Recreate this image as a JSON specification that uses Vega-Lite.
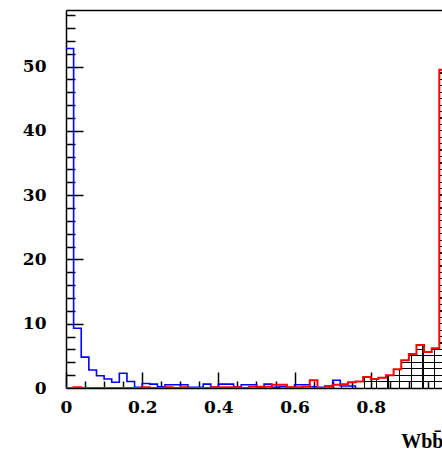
{
  "$schema": "https://vega.github.io/schema/vega-lite/v6.json",
  "width": 376,
  "height": 378,
  "autosize": {"type": "none"},
  "padding": {"left": 66, "top": 10, "right": 0, "bottom": 61},
  "background": "white",
  "config": {
    "view": {"stroke": null},
    "axis": {"grid": false, "domainColor": "black", "tickColor": "black", "labelColor": "black", "titleColor": "black", "labelFlush": false, "labelOverlap": false, "labelBound": false}
  },
  "data": {"values": [
    {"x": 0, "blue": 52.8, "red": 0},
    {"x": 0.02, "blue": 9.3, "red": 0.1},
    {"x": 0.04, "blue": 4.8, "red": 0},
    {"x": 0.06, "blue": 2.8, "red": 0},
    {"x": 0.08, "blue": 1.9, "red": 0},
    {"x": 0.1, "blue": 1.4, "red": 0},
    {"x": 0.12, "blue": 0.9, "red": 0},
    {"x": 0.14, "blue": 2.3, "red": 0},
    {"x": 0.16, "blue": 1.0, "red": 0},
    {"x": 0.18, "blue": 0.1, "red": 0},
    {"x": 0.2, "blue": 0.7, "red": 0.1},
    {"x": 0.22, "blue": 0.6, "red": 0},
    {"x": 0.24, "blue": 0.2, "red": 0},
    {"x": 0.26, "blue": 0.5, "red": 0.1},
    {"x": 0.28, "blue": 0.5, "red": 0},
    {"x": 0.3, "blue": 0.5, "red": 0.1},
    {"x": 0.32, "blue": 0.1, "red": 0},
    {"x": 0.34, "blue": 0.1, "red": 0},
    {"x": 0.36, "blue": 0.6, "red": 0},
    {"x": 0.38, "blue": 0.1, "red": 0.1},
    {"x": 0.4, "blue": 0.6, "red": 0.1},
    {"x": 0.42, "blue": 0.6, "red": 0.1},
    {"x": 0.44, "blue": 0.2, "red": 0.1},
    {"x": 0.46, "blue": 0.5, "red": 0},
    {"x": 0.48, "blue": 0.5, "red": 0.2},
    {"x": 0.5, "blue": 0.1, "red": 0.2},
    {"x": 0.52, "blue": 0.6, "red": 0.2},
    {"x": 0.54, "blue": 0.1, "red": 0.5},
    {"x": 0.56, "blue": 0.2, "red": 0.5},
    {"x": 0.58, "blue": 0.1, "red": 0.1},
    {"x": 0.6, "blue": 0.5, "red": 0.1},
    {"x": 0.62, "blue": 0.5, "red": 0.2},
    {"x": 0.64, "blue": 0.2, "red": 1.2},
    {"x": 0.66, "blue": 0.1, "red": 0},
    {"x": 0.68, "blue": 0.2, "red": 0.3},
    {"x": 0.7, "blue": 1.2, "red": 0.5},
    {"x": 0.72, "blue": 0.3, "red": 0.6},
    {"x": 0.74, "blue": 0.3, "red": 0.9},
    {"x": 0.76, "blue": 0, "red": 1.0},
    {"x": 0.78, "blue": null, "red": 1.7},
    {"x": 0.8, "blue": null, "red": 1.4},
    {"x": 0.82, "blue": null, "red": 1.6},
    {"x": 0.84, "blue": null, "red": 2.0},
    {"x": 0.86, "blue": null, "red": 2.9},
    {"x": 0.88, "blue": null, "red": 4.3},
    {"x": 0.9, "blue": null, "red": 5.3},
    {"x": 0.92, "blue": null, "red": 6.7},
    {"x": 0.94, "blue": null, "red": 5.6},
    {"x": 0.96, "blue": null, "red": 6.2},
    {"x": 0.98, "blue": null, "red": 49.5},
    {"x": 1.0, "blue": null, "red": 49.5}
  ]},
  "resolve": {"axis": {"x": "independent", "y": "independent"}},
  "layer": [
    {
      "transform": [{"filter": "datum.x >= 0.679"}],
      "mark": {"type": "area", "interpolate": "step-after", "clip": true, "stroke": null,
        "fill": {"gradient": "linear", "x1": 0, "y1": 0, "x2": 0, "y2": 1, "stops": [
          {"offset": 0, "color": "transparent"},
          {"offset": 0.0081, "color": "transparent"}, {"offset": 0.0081, "color": "#000"}, {"offset": 0.0121, "color": "#000"}, {"offset": 0.0121, "color": "transparent"},
          {"offset": 0.0283, "color": "transparent"}, {"offset": 0.0283, "color": "#000"}, {"offset": 0.0323, "color": "#000"}, {"offset": 0.0323, "color": "transparent"},
          {"offset": 0.0485, "color": "transparent"}, {"offset": 0.0485, "color": "#000"}, {"offset": 0.0525, "color": "#000"}, {"offset": 0.0525, "color": "transparent"},
          {"offset": 0.0687, "color": "transparent"}, {"offset": 0.0687, "color": "#000"}, {"offset": 0.0727, "color": "#000"}, {"offset": 0.0727, "color": "transparent"},
          {"offset": 0.0889, "color": "transparent"}, {"offset": 0.0889, "color": "#000"}, {"offset": 0.0929, "color": "#000"}, {"offset": 0.0929, "color": "transparent"},
          {"offset": 0.1091, "color": "transparent"}, {"offset": 0.1091, "color": "#000"}, {"offset": 0.1131, "color": "#000"}, {"offset": 0.1131, "color": "transparent"},
          {"offset": 0.1293, "color": "transparent"}, {"offset": 0.1293, "color": "#000"}, {"offset": 0.1333, "color": "#000"}, {"offset": 0.1333, "color": "transparent"},
          {"offset": 0.1495, "color": "transparent"}, {"offset": 0.1495, "color": "#000"}, {"offset": 0.1535, "color": "#000"}, {"offset": 0.1535, "color": "transparent"},
          {"offset": 0.1697, "color": "transparent"}, {"offset": 0.1697, "color": "#000"}, {"offset": 0.1737, "color": "#000"}, {"offset": 0.1737, "color": "transparent"},
          {"offset": 0.1899, "color": "transparent"}, {"offset": 0.1899, "color": "#000"}, {"offset": 0.1939, "color": "#000"}, {"offset": 0.1939, "color": "transparent"},
          {"offset": 0.2101, "color": "transparent"}, {"offset": 0.2101, "color": "#000"}, {"offset": 0.2141, "color": "#000"}, {"offset": 0.2141, "color": "transparent"},
          {"offset": 0.2303, "color": "transparent"}, {"offset": 0.2303, "color": "#000"}, {"offset": 0.2343, "color": "#000"}, {"offset": 0.2343, "color": "transparent"},
          {"offset": 0.2505, "color": "transparent"}, {"offset": 0.2505, "color": "#000"}, {"offset": 0.2545, "color": "#000"}, {"offset": 0.2545, "color": "transparent"},
          {"offset": 0.2707, "color": "transparent"}, {"offset": 0.2707, "color": "#000"}, {"offset": 0.2747, "color": "#000"}, {"offset": 0.2747, "color": "transparent"},
          {"offset": 0.2909, "color": "transparent"}, {"offset": 0.2909, "color": "#000"}, {"offset": 0.2949, "color": "#000"}, {"offset": 0.2949, "color": "transparent"},
          {"offset": 0.3111, "color": "transparent"}, {"offset": 0.3111, "color": "#000"}, {"offset": 0.3151, "color": "#000"}, {"offset": 0.3151, "color": "transparent"},
          {"offset": 0.3313, "color": "transparent"}, {"offset": 0.3313, "color": "#000"}, {"offset": 0.3353, "color": "#000"}, {"offset": 0.3353, "color": "transparent"},
          {"offset": 0.3515, "color": "transparent"}, {"offset": 0.3515, "color": "#000"}, {"offset": 0.3555, "color": "#000"}, {"offset": 0.3555, "color": "transparent"},
          {"offset": 0.3717, "color": "transparent"}, {"offset": 0.3717, "color": "#000"}, {"offset": 0.3757, "color": "#000"}, {"offset": 0.3757, "color": "transparent"},
          {"offset": 0.3919, "color": "transparent"}, {"offset": 0.3919, "color": "#000"}, {"offset": 0.3959, "color": "#000"}, {"offset": 0.3959, "color": "transparent"},
          {"offset": 0.4121, "color": "transparent"}, {"offset": 0.4121, "color": "#000"}, {"offset": 0.4161, "color": "#000"}, {"offset": 0.4161, "color": "transparent"},
          {"offset": 0.4323, "color": "transparent"}, {"offset": 0.4323, "color": "#000"}, {"offset": 0.4363, "color": "#000"}, {"offset": 0.4363, "color": "transparent"},
          {"offset": 0.4525, "color": "transparent"}, {"offset": 0.4525, "color": "#000"}, {"offset": 0.4565, "color": "#000"}, {"offset": 0.4565, "color": "transparent"},
          {"offset": 0.4727, "color": "transparent"}, {"offset": 0.4727, "color": "#000"}, {"offset": 0.4767, "color": "#000"}, {"offset": 0.4767, "color": "transparent"},
          {"offset": 0.4929, "color": "transparent"}, {"offset": 0.4929, "color": "#000"}, {"offset": 0.4969, "color": "#000"}, {"offset": 0.4969, "color": "transparent"},
          {"offset": 0.5132, "color": "transparent"}, {"offset": 0.5132, "color": "#000"}, {"offset": 0.5172, "color": "#000"}, {"offset": 0.5172, "color": "transparent"},
          {"offset": 0.5334, "color": "transparent"}, {"offset": 0.5334, "color": "#000"}, {"offset": 0.5374, "color": "#000"}, {"offset": 0.5374, "color": "transparent"},
          {"offset": 0.5536, "color": "transparent"}, {"offset": 0.5536, "color": "#000"}, {"offset": 0.5576, "color": "#000"}, {"offset": 0.5576, "color": "transparent"},
          {"offset": 0.5738, "color": "transparent"}, {"offset": 0.5738, "color": "#000"}, {"offset": 0.5778, "color": "#000"}, {"offset": 0.5778, "color": "transparent"},
          {"offset": 0.5940, "color": "transparent"}, {"offset": 0.5940, "color": "#000"}, {"offset": 0.5980, "color": "#000"}, {"offset": 0.5980, "color": "transparent"},
          {"offset": 0.6142, "color": "transparent"}, {"offset": 0.6142, "color": "#000"}, {"offset": 0.6182, "color": "#000"}, {"offset": 0.6182, "color": "transparent"},
          {"offset": 0.6344, "color": "transparent"}, {"offset": 0.6344, "color": "#000"}, {"offset": 0.6384, "color": "#000"}, {"offset": 0.6384, "color": "transparent"},
          {"offset": 0.6546, "color": "transparent"}, {"offset": 0.6546, "color": "#000"}, {"offset": 0.6586, "color": "#000"}, {"offset": 0.6586, "color": "transparent"},
          {"offset": 0.6748, "color": "transparent"}, {"offset": 0.6748, "color": "#000"}, {"offset": 0.6788, "color": "#000"}, {"offset": 0.6788, "color": "transparent"},
          {"offset": 0.6950, "color": "transparent"}, {"offset": 0.6950, "color": "#000"}, {"offset": 0.6990, "color": "#000"}, {"offset": 0.6990, "color": "transparent"},
          {"offset": 0.7152, "color": "transparent"}, {"offset": 0.7152, "color": "#000"}, {"offset": 0.7192, "color": "#000"}, {"offset": 0.7192, "color": "transparent"},
          {"offset": 0.7354, "color": "transparent"}, {"offset": 0.7354, "color": "#000"}, {"offset": 0.7394, "color": "#000"}, {"offset": 0.7394, "color": "transparent"},
          {"offset": 0.7556, "color": "transparent"}, {"offset": 0.7556, "color": "#000"}, {"offset": 0.7596, "color": "#000"}, {"offset": 0.7596, "color": "transparent"},
          {"offset": 0.7758, "color": "transparent"}, {"offset": 0.7758, "color": "#000"}, {"offset": 0.7798, "color": "#000"}, {"offset": 0.7798, "color": "transparent"},
          {"offset": 0.7960, "color": "transparent"}, {"offset": 0.7960, "color": "#000"}, {"offset": 0.8000, "color": "#000"}, {"offset": 0.8000, "color": "transparent"},
          {"offset": 0.8162, "color": "transparent"}, {"offset": 0.8162, "color": "#000"}, {"offset": 0.8202, "color": "#000"}, {"offset": 0.8202, "color": "transparent"},
          {"offset": 0.8364, "color": "transparent"}, {"offset": 0.8364, "color": "#000"}, {"offset": 0.8404, "color": "#000"}, {"offset": 0.8404, "color": "transparent"},
          {"offset": 0.8566, "color": "transparent"}, {"offset": 0.8566, "color": "#000"}, {"offset": 0.8606, "color": "#000"}, {"offset": 0.8606, "color": "transparent"},
          {"offset": 0.8768, "color": "transparent"}, {"offset": 0.8768, "color": "#000"}, {"offset": 0.8808, "color": "#000"}, {"offset": 0.8808, "color": "transparent"},
          {"offset": 0.8970, "color": "transparent"}, {"offset": 0.8970, "color": "#000"}, {"offset": 0.9010, "color": "#000"}, {"offset": 0.9010, "color": "transparent"},
          {"offset": 0.9172, "color": "transparent"}, {"offset": 0.9172, "color": "#000"}, {"offset": 0.9212, "color": "#000"}, {"offset": 0.9212, "color": "transparent"},
          {"offset": 0.9374, "color": "transparent"}, {"offset": 0.9374, "color": "#000"}, {"offset": 0.9414, "color": "#000"}, {"offset": 0.9414, "color": "transparent"},
          {"offset": 0.9576, "color": "transparent"}, {"offset": 0.9576, "color": "#000"}, {"offset": 0.9616, "color": "#000"}, {"offset": 0.9616, "color": "transparent"},
          {"offset": 0.9778, "color": "transparent"}, {"offset": 0.9778, "color": "#000"}, {"offset": 0.9818, "color": "#000"}, {"offset": 0.9818, "color": "transparent"},
          {"offset": 1, "color": "transparent"}
        ]}
      },
      "encoding": {
        "x": {"field": "x", "type": "quantitative", "scale": {"domain": [0, 0.987], "nice": false, "zero": false},
          "axis": {"orient": "bottom", "values": [0, 0.2, 0.4, 0.6, 0.8], "format": "~g", "ticks": false, "labelPadding": 11,
            "labelFont": "DejaVu Serif", "labelFontWeight": "bold", "labelFontSize": 17,
            "domain": true, "domainWidth": 1.5,
            "title": "Wbb\u0304", "titleFont": "Liberation Serif", "titleFontWeight": "bold", "titleFontSize": 20,
            "titleAlign": "right", "titleBaseline": "alphabetic", "titleX": 377, "titleY": 59, "titleAnchor": "end"}},
        "y": {"field": "red", "type": "quantitative", "scale": {"domain": [0, 58.8], "nice": false, "zero": true},
          "axis": {"orient": "left", "values": [0, 10, 20, 30, 40, 50], "ticks": false, "labelPadding": 20,
            "labelFont": "DejaVu Serif", "labelFontWeight": "bold", "labelFontSize": 17,
            "domain": true, "domainWidth": 1.5, "title": null}}
      }
    },
    {
      "transform": [{"filter": "datum.x >= 0.679"}],
      "mark": {"type": "area", "interpolate": "step-after", "clip": true, "stroke": null,
        "fill": {"gradient": "linear", "x1": 0, "y1": 0, "x2": 1, "y2": 0, "stops": [
          {"offset": 0, "color": "transparent"},
          {"offset": 0.031, "color": "transparent"}, {"offset": 0.031, "color": "#000"}, {"offset": 0.041, "color": "#000"}, {"offset": 0.041, "color": "transparent"},
          {"offset": 0.127, "color": "transparent"}, {"offset": 0.127, "color": "#000"}, {"offset": 0.137, "color": "#000"}, {"offset": 0.137, "color": "transparent"},
          {"offset": 0.223, "color": "transparent"}, {"offset": 0.223, "color": "#000"}, {"offset": 0.233, "color": "#000"}, {"offset": 0.233, "color": "transparent"},
          {"offset": 0.319, "color": "transparent"}, {"offset": 0.319, "color": "#000"}, {"offset": 0.329, "color": "#000"}, {"offset": 0.329, "color": "transparent"},
          {"offset": 0.415, "color": "transparent"}, {"offset": 0.415, "color": "#000"}, {"offset": 0.425, "color": "#000"}, {"offset": 0.425, "color": "transparent"},
          {"offset": 0.511, "color": "transparent"}, {"offset": 0.511, "color": "#000"}, {"offset": 0.521, "color": "#000"}, {"offset": 0.521, "color": "transparent"},
          {"offset": 0.607, "color": "transparent"}, {"offset": 0.607, "color": "#000"}, {"offset": 0.617, "color": "#000"}, {"offset": 0.617, "color": "transparent"},
          {"offset": 0.703, "color": "transparent"}, {"offset": 0.703, "color": "#000"}, {"offset": 0.713, "color": "#000"}, {"offset": 0.713, "color": "transparent"},
          {"offset": 0.799, "color": "transparent"}, {"offset": 0.799, "color": "#000"}, {"offset": 0.809, "color": "#000"}, {"offset": 0.809, "color": "transparent"},
          {"offset": 0.895, "color": "transparent"}, {"offset": 0.895, "color": "#000"}, {"offset": 0.905, "color": "#000"}, {"offset": 0.905, "color": "transparent"},
          {"offset": 1, "color": "transparent"}
        ]}
      },
      "encoding": {
        "x": {"field": "x", "type": "quantitative", "scale": {"domain": [0, 0.987], "nice": false, "zero": false},
          "axis": {"orient": "bottom", "values": [0, 0.2, 0.4, 0.6, 0.8], "labels": false, "domain": false, "ticks": true, "tickSize": -16, "tickWidth": 1.5, "title": null}},
        "y": {"field": "red", "type": "quantitative", "scale": {"domain": [0, 58.8], "nice": false, "zero": true},
          "axis": {"orient": "left", "values": [10, 20, 30, 40, 50], "labels": false, "domain": false, "ticks": true, "tickSize": -17, "tickWidth": 1.5, "title": null}}
      }
    },
    {
      "mark": {"type": "line", "interpolate": "step-after", "clip": true, "color": "#0000ff", "strokeWidth": 1.6},
      "encoding": {
        "x": {"field": "x", "type": "quantitative", "scale": {"domain": [0, 0.987], "nice": false, "zero": false},
          "axis": {"orient": "bottom", "values": [0.05, 0.1, 0.15, 0.25, 0.3, 0.35, 0.45, 0.5, 0.55, 0.65, 0.7, 0.75, 0.85, 0.9, 0.95], "labels": false, "domain": false, "ticks": true, "tickSize": -7, "tickWidth": 1.5, "title": null}},
        "y": {"field": "blue", "type": "quantitative", "scale": {"domain": [0, 58.8], "nice": false, "zero": true},
          "axis": {"orient": "left", "values": [2, 4, 6, 8, 12, 14, 16, 18, 22, 24, 26, 28, 32, 34, 36, 38, 42, 44, 46, 48, 52, 54, 56, 58], "labels": false, "domain": false, "ticks": true, "tickSize": -9, "tickWidth": 1.5, "title": null}}
      }
    },
    {
      "mark": {"type": "line", "interpolate": "step-after", "clip": true, "color": "#ff0000", "strokeWidth": 2},
      "encoding": {
        "x": {"field": "x", "type": "quantitative", "scale": {"domain": [0, 0.987], "nice": false, "zero": false},
          "axis": {"orient": "top", "labels": false, "ticks": false, "domain": true, "domainWidth": 1.5, "title": null}},
        "y": {"field": "red", "type": "quantitative", "scale": {"domain": [0, 58.8], "nice": false, "zero": true}, "axis": null}
      }
    }
  ]
}
